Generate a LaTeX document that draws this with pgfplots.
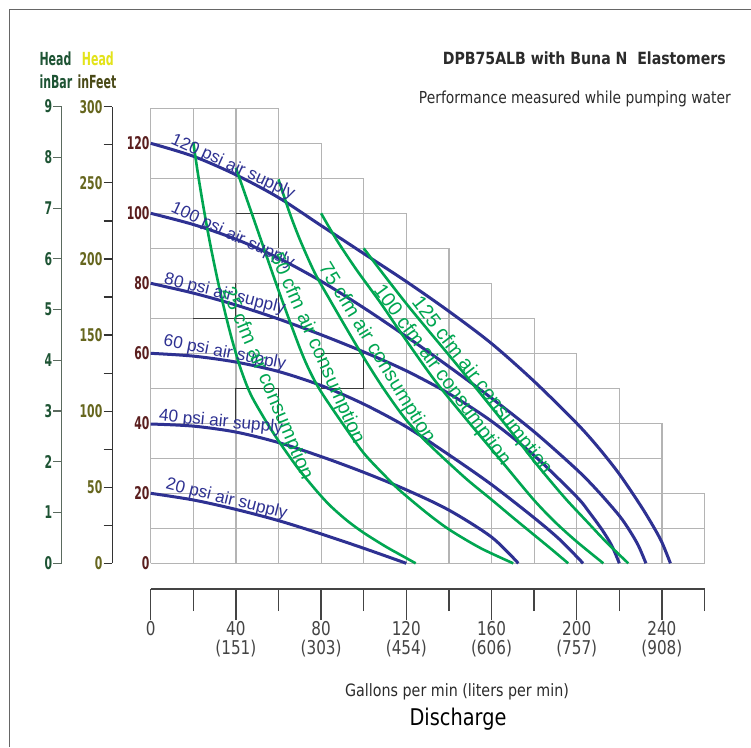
\documentclass[border=0pt]{standalone}
\usepackage{fontspec}
\setmainfont{DejaVu Sans}[FakeStretch=0.84]
\newfontfamily\narrowf{DejaVu Sans}[FakeStretch=0.62]
\newfontfamily\headf{DejaVu Sans}[FakeStretch=0.61]
\newfontfamily\tickf{DejaVu Sans}[FakeStretch=0.80]
\newfontfamily\arialf{Liberation Sans}
\usepackage{pgfplots}
\pgfplotsset{compat=1.18}

\definecolor{psiblue}{HTML}{2E3192}
\definecolor{cfmgreen}{HTML}{00A651}
\definecolor{gridc}{HTML}{B4B4B4}
\definecolor{darkgrid}{HTML}{3A3A3A}
\definecolor{psired}{HTML}{5A1E1E}
\definecolor{bargreen}{HTML}{1E5434}
\definecolor{feetol}{HTML}{66661E}
\definecolor{headyel}{HTML}{E3E31A}
\definecolor{infeet}{HTML}{4A4A18}
\definecolor{titlec}{HTML}{2B2B2B}
\definecolor{axisgray}{HTML}{444444}
\definecolor{baraxis}{HTML}{5A6A5E}

\newcommand{\fs}[1]{\fontsize{#1}{#1}\selectfont}

\begin{document}
\begin{tikzpicture}
\useasboundingbox (0pt,0pt) rectangle (751pt,-747pt);
\fill[white] (0pt,0pt) rectangle (751pt,-747pt);
\draw[color=gray!80!black, line width=1pt] (9pt,-747pt) -- (9pt,-9pt) -- (751pt,-9pt);

% ---------------- main chart ----------------
\begin{axis}[
  at={(150.7pt,-563.3pt)}, anchor=south west,
  scale only axis, width=553.8pt, height=455pt,
  xmin=0, xmax=260, ymin=0, ymax=130,
  axis line style={draw=none},
  xtick=\empty,
  ytick={0,20,...,120},
  major tick length=0pt,
  /pgf/number format/assume math mode=true,
  yticklabel style={font=\narrowf\bfseries\fs{17.5}, text=psired, inner xsep=1pt},
  clip=false,
]
% staircase grid
\draw[gridc, line width=1.2pt]
  (axis cs:0,0) -- (axis cs:0,130)
  (axis cs:20,0) -- (axis cs:20,130)
  (axis cs:40,0) -- (axis cs:40,130)
  (axis cs:60,0) -- (axis cs:60,130)
  (axis cs:80,0) -- (axis cs:80,120)
  (axis cs:100,0) -- (axis cs:100,110)
  (axis cs:120,0) -- (axis cs:120,100)
  (axis cs:140,0) -- (axis cs:140,90)
  (axis cs:160,0) -- (axis cs:160,80)
  (axis cs:180,0) -- (axis cs:180,70)
  (axis cs:200,0) -- (axis cs:200,60)
  (axis cs:220,0) -- (axis cs:220,50)
  (axis cs:240,0) -- (axis cs:240,40)
  (axis cs:260,0) -- (axis cs:260,20)
  (axis cs:0,0) -- (axis cs:260,0)
  (axis cs:0,10) -- (axis cs:260,10)
  (axis cs:0,20) -- (axis cs:260,20)
  (axis cs:0,30) -- (axis cs:240,30)
  (axis cs:0,40) -- (axis cs:240,40)
  (axis cs:0,50) -- (axis cs:220,50)
  (axis cs:0,60) -- (axis cs:200,60)
  (axis cs:0,70) -- (axis cs:180,70)
  (axis cs:0,80) -- (axis cs:160,80)
  (axis cs:0,90) -- (axis cs:140,90)
  (axis cs:0,100) -- (axis cs:120,100)
  (axis cs:0,110) -- (axis cs:100,110)
  (axis cs:0,120) -- (axis cs:80,120)
  (axis cs:0,130) -- (axis cs:60,130);
\draw[darkgrid, line width=0.9pt]
  (axis cs:40,100) -- (axis cs:60,100) -- (axis cs:60,90)
  (axis cs:20,70) -- (axis cs:60,70)
  (axis cs:60,80) -- (axis cs:60,70)
  (axis cs:40,80) -- (axis cs:40,70)
  (axis cs:80,50) -- (axis cs:80,60) -- (axis cs:100,60) -- (axis cs:100,50) -- cycle
  (axis cs:40,40) -- (axis cs:40,50) -- (axis cs:60,50) -- (axis cs:60,40);

% psi curves
\addplot[psiblue, line width=3pt, smooth, tension=0.5] coordinates {
 (0,120) (20,116.3) (40,111) (60,104.5) (80,96.5) (100,88.5) (120,80.5) (140,72)
 (160,62.8) (180,52) (200,40) (210,33.2) (220,25.5) (230,16.5) (236,10.5) (240,6) (244,0)};
\addplot[psiblue, line width=3pt, smooth, tension=0.5] coordinates {
 (0,100) (20,96.8) (40,92.6) (60,87.2) (80,80.6) (100,73) (120,64.8) (140,56.2)
 (160,47.2) (180,37.6) (200,26.8) (210,20.6) (220,13.6) (225,9.2) (229,5) (232.5,0)};
\addplot[psiblue, line width=3pt, smooth, tension=0.5] coordinates {
 (0,80) (20,77.2) (40,73.8) (60,69.8) (80,65.3) (100,60.4) (120,55) (140,48.5)
 (160,40.6) (180,30.8) (200,19) (206,14.5) (212,9.5) (216.5,5) (220,0)};
\addplot[psiblue, line width=3pt, smooth, tension=0.5] coordinates {
 (0,60) (20,59.2) (40,57.5) (60,54.8) (80,50.8) (100,45.5) (120,39) (140,31)
 (160,22.5) (180,13) (192,6.8) (203,0)};
\addplot[psiblue, line width=3pt, smooth, tension=0.5] coordinates {
 (0,39.8) (20,39.2) (40,37.5) (60,34.5) (80,30.5) (100,26) (120,21) (140,15.2)
 (160,7.5) (172.6,0)};
\addplot[psiblue, line width=3pt, smooth, tension=0.5] coordinates {
 (0,20) (20,18.1) (40,15.4) (60,12.2) (80,8.4) (100,4.3) (120,0)};

% cfm curves
\addplot[cfmgreen, line width=2.6pt, smooth, tension=0.5] coordinates {
 (20,120.3) (22,112) (24,104.5) (26,97.5) (28,91) (30,85) (32,79.3) (34,74)
 (36,69) (38,64.3) (40,60) (42,56) (45,51) (48,47) (54.5,40.2) (60,35) (65.4,30.3)
 (70.1,26.4) (78,20.6) (84.2,16.5) (92,12.3) (99.8,8.8) (110,4.9) (117,2.5) (124.4,0)};
\addplot[cfmgreen, line width=2.6pt, smooth, tension=0.5] coordinates {
 (40,113) (50,95.5) (60,78) (70,61.5) (75,54.5) (80,49) (90,40) (100,31.5)
 (110,25) (117,20.8) (130,14.2) (140.5,9.5) (155,4.3) (170.2,0)};
\addplot[cfmgreen, line width=2.6pt, smooth, tension=0.5] coordinates {
 (60,109.7) (65,100.5) (70.1,92.4) (77,83) (84.2,75.2) (92,67) (99.8,59) (109,50.2)
 (118.6,42) (127,36.2) (135.8,31) (148.4,24) (160,18.2) (170,13.1) (180,8.1) (188,4.1) (196,0)};
\addplot[cfmgreen, line width=2.6pt, smooth, tension=0.5] coordinates {
 (80,100) (87.3,92.4) (96.7,83.8) (107.7,74.6) (117,66.3) (132.7,52.8) (148.4,41)
 (164,29.7) (179.6,18.3) (190,11.7) (200,6.2) (212.5,0)};
\addplot[cfmgreen, line width=2.6pt, smooth, tension=0.5] coordinates {
 (100,90) (110,82) (120,74.2) (130,66.8) (140,59.5) (148.4,53.3) (160,44.6) (170,37)
 (179.6,29.5) (187,24) (195.3,18.1) (205,11.8) (214,6) (224.2,0)};
\end{axis}

% ---------------- bar axis ----------------
\begin{axis}[
  at={(61.7pt,-563.3pt)}, anchor=south west,
  scale only axis, width=10pt, height=456.7pt,
  xmin=0, xmax=1, ymin=0, ymax=9,
  hide x axis, axis y line*=left,
  ytick={0,1,...,9},
  tick align=outside, major tick length=8.4pt,
  y axis line style={color=baraxis, line width=1.2pt},
  ytick style={color=baraxis, line width=1.2pt},
  /pgf/number format/assume math mode=true,
  yticklabel style={font=\narrowf\bfseries\fs{17.5}, text=bargreen, inner xsep=1pt},
]
\end{axis}

% ---------------- feet axis ----------------
\begin{axis}[
  at={(112.3pt,-563.3pt)}, anchor=south west,
  scale only axis, width=10pt, height=456.5pt,
  xmin=0, xmax=1, ymin=0, ymax=300,
  hide x axis, axis y line*=left,
  ytick={0,50,...,300}, minor ytick={25,75,...,275},
  tick align=outside, major tick length=8.8pt, minor tick length=8.8pt,
  y axis line style={color=black!80, line width=1.2pt},
  ytick style={color=black!80, line width=1.2pt},
  minor tick style={color=black!80, line width=1.2pt},
  /pgf/number format/assume math mode=true,
  yticklabel style={font=\narrowf\bfseries\fs{17.5}, text=feetol, inner xsep=1pt},
]
\end{axis}

% ---------------- discharge axis ----------------
\begin{axis}[
  at={(150.7pt,-589pt)}, anchor=south west,
  scale only axis, width=553.8pt, height=10pt,
  xmin=0, xmax=260, ymin=0, ymax=1,
  hide y axis, axis x line*=bottom,
  xtick={0,40,...,240},
  xticklabels={0,{40\\(151)},{80\\(303)},{120\\(454)},{160\\(606)},{200\\(757)},{240\\(908)}},
  minor xtick={20,60,...,260},
  tick align=outside, major tick length=31pt, minor tick length=22pt,
  x axis line style={color=axisgray, line width=1.3pt},
  xtick style={color=axisgray, line width=1.3pt},
  minor tick style={color=axisgray, line width=1.3pt},
  xticklabel style={align=center, font=\tickf\fs{19}, text=axisgray, inner ysep=1pt},
]
\end{axis}

% ---------------- curve labels ----------------
\begin{scope}[every node/.style={inner sep=0pt, anchor=base west, text=psiblue, font=\arialf\fs{17.2}}]
\node[rotate=-24.5] at (170pt,-143pt) {120 psi air supply};
\node[rotate=-25] at (170pt,-211.5pt) {100 psi air supply};
\node[rotate=-14] at (163.3pt,-283.7pt) {80 psi air supply};
\node[rotate=-11] at (162.7pt,-345.5pt) {60 psi air supply};
\node[rotate=-5.7] at (158.3pt,-420.6pt) {40 psi air supply};
\node[rotate=-14] at (165pt,-488.7pt) {20 psi air supply};
\end{scope}
\begin{scope}[every node/.style={inner sep=0pt, anchor=base west, text=cfmgreen, font=\arialf\fs{20}}]
\node[rotate=-67] at (221.7pt,-290.6pt) {25 cfm air consumption};
\node[rotate=-66] at (270pt,-256pt) {50 cfm air consumption};
\node[rotate=-58.7] at (318.3pt,-267.5pt) {75 cfm air consumption};
\node[rotate=-53.7] at (373pt,-290.5pt) {100 cfm air consumption};
\node[rotate=-52.5] at (411pt,-302.8pt) {125 cfm air consumption};
\end{scope}

% ---------------- texts ----------------
\node[anchor=base west, inner sep=0pt, text=bargreen, font=\headf\bfseries\fs{18}] at (39.3pt,-65pt) {Head};
\node[anchor=base west, inner sep=0pt, text=bargreen, font=\headf\bfseries\fs{18}] at (39.3pt,-88.3pt) {inBar};
\node[anchor=base west, inner sep=0pt, text=headyel, font=\headf\bfseries\fs{18}] at (81.7pt,-65pt) {Head};
\node[anchor=base west, inner sep=0pt, text=infeet, font=\headf\bfseries\fs{18}] at (77.3pt,-88.3pt) {inFeet};

\node[anchor=base east, inner sep=0pt, text=titlec, font=\bfseries\fs{16.8}] at (726pt,-64pt) {DPB75ALB with Buna N\ \ Elastomers};
\node[anchor=base east, inner sep=0pt, text=titlec, font=\fs{16.5}] at (731pt,-103pt) {Performance measured while pumping water};
\node[anchor=base, inner sep=0pt, text=titlec, font=\fs{17}] at (457pt,-696pt) {Gallons per min (liters per min)};
\node[anchor=base, inner sep=0pt, text=black, font=\fs{23}] at (458pt,-725pt) {Discharge};
\end{tikzpicture}
\end{document}
